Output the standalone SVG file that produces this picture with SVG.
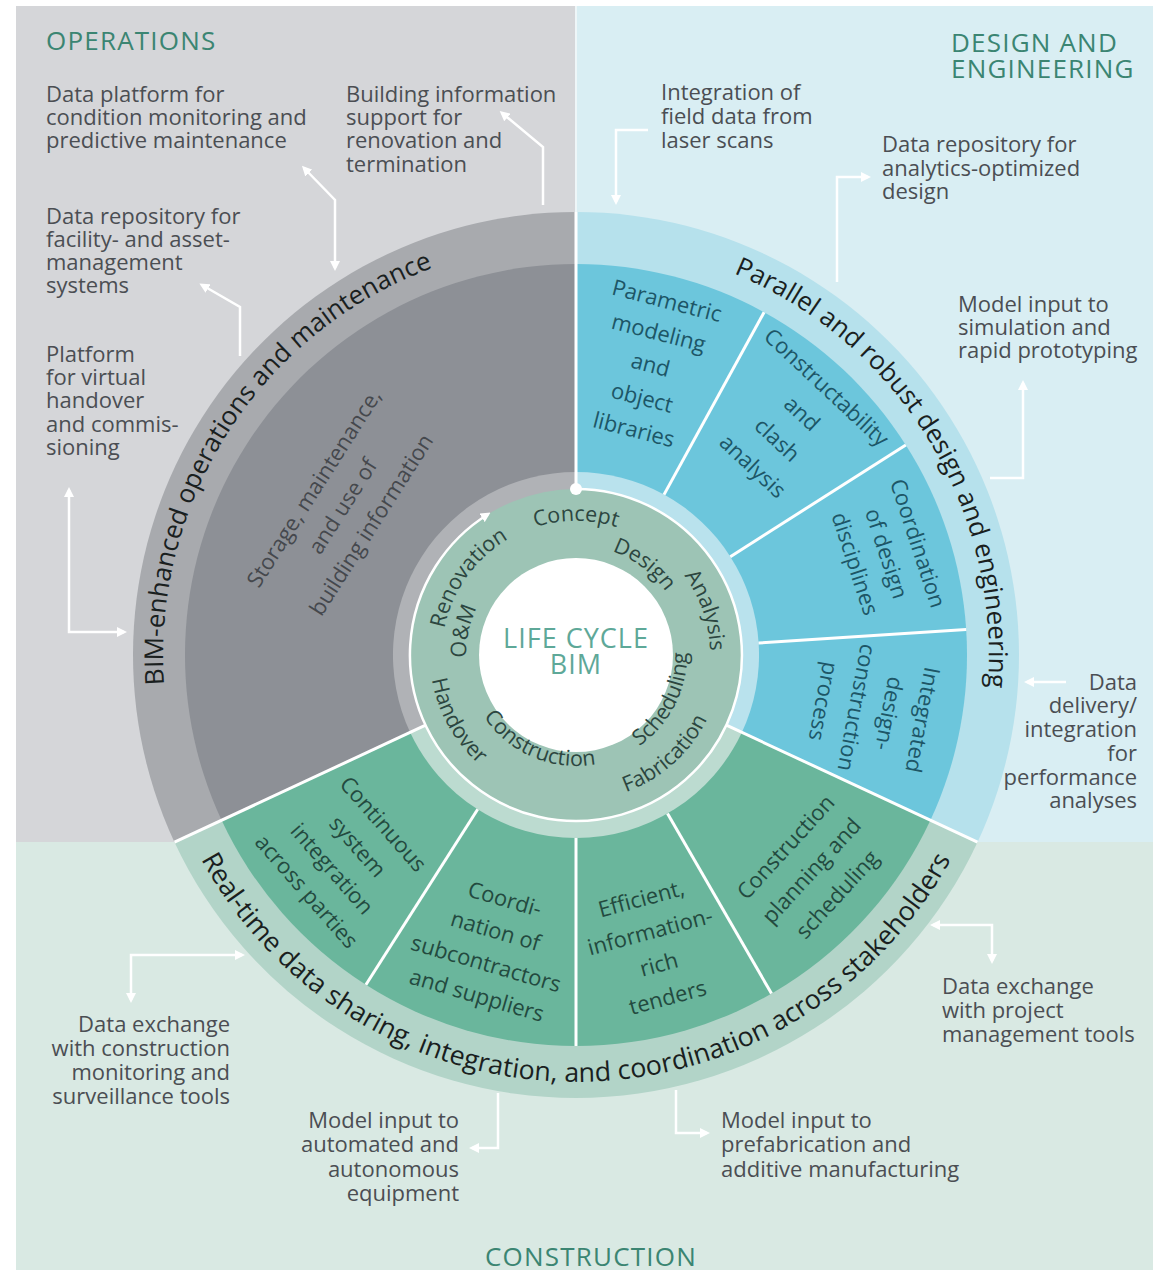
<svg xmlns="http://www.w3.org/2000/svg" width="1153" height="1270" viewBox="0 0 1153 1270">
<style>
text{font-family:"Open Sans","Noto Sans","Liberation Sans",sans-serif}
.ann{font-size:22px;fill:#4b4e53}
.r{text-anchor:end}
.hdr{font-size:26px;fill:#3b8572;letter-spacing:1.2px}
.sec{font-size:22px;text-anchor:middle}
.sg{fill:#45484d}
.sb{fill:#1d5667}
.sgr{fill:#234a3f}
.band{font-size:26px;font-weight:500;fill:#1a1f1f}
.lc{font-size:21.5px;fill:#2c4640}
.conn{fill:none;stroke:#ffffff;stroke-width:2.5}
.div{stroke:#ffffff;stroke-width:3;fill:none}
</style>
<defs>
<marker id="ah" viewBox="0 0 10 10" refX="7" refY="5" markerWidth="4" markerHeight="4" orient="auto-start-reverse" markerUnits="strokeWidth">
<path d="M0,0 L10,5 L0,10 z" fill="#ffffff"/>
</marker>
<path id="cw413" d="M169.3,583.3 A413,413 0 0 1 982.7,583.3"/>
<path id="cw134" d="M444,631.7 A134,134 0 0 1 708,631.7"/>
<path id="cw110" d="M467.7,635.9 A110,110 0 0 1 684.3,635.9"/>
<path id="ccw427" d="M155.5,729.1 A427,427 0 0 0 996.5,729.1"/>
<path id="ccw146" d="M432.2,680.3 A146,146 0 0 0 719.8,680.3"/>
<path id="ccw111" d="M466.7,674.3 A111,111 0 0 0 685.3,674.3"/>
</defs>

<rect width="1153" height="1270" fill="#ffffff"/>
<g id="backgrounds">
<rect x="16" y="6" width="560" height="836" fill="#d5d6d9"/>
<rect x="576" y="6" width="577" height="836" fill="#d9eef3"/>
<rect x="16" y="842" width="1137" height="428" fill="#d9e9e3"/>
<line x1="576" y1="6" x2="576" y2="212" stroke="#eef6f8" stroke-width="2"/>
</g>

<g id="wheel">
<path d="M576,655 L174.5,842.2 A443,443 0 0 1 576,212 Z" fill="#a8aaae"/>
<path d="M576,655 L576,212 A443,443 0 0 1 977.5,842.2 Z" fill="#b6e1ec"/>
<path d="M576,655 L977.5,842.2 A443,443 0 0 1 174.5,842.2 Z" fill="#b2d4c8"/>
<path d="M576,655 L221.6,820.2 A391,391 0 0 1 576,264 Z" fill="#8d9096"/>
<path d="M576,655 L576,264 A391,391 0 0 1 930.4,820.2 Z" fill="#6cc6dc"/>
<path d="M576,655 L930.4,820.2 A391,391 0 0 1 221.6,820.2 Z" fill="#6ab69c"/>
<path d="M576,655 L410.1,732.3 A183,183 0 0 1 576,472 Z" fill="#b0b2b6"/>
<path d="M576,655 L576,472 A183,183 0 0 1 741.9,732.3 Z" fill="#b9e2ed"/>
<path d="M576,655 L741.9,732.3 A183,183 0 0 1 410.1,732.3 Z" fill="#bcdbd0"/>
<circle cx="576" cy="655" r="166" fill="#9dc4b5"/>
<circle cx="576" cy="655" r="97" fill="#ffffff"/>
</g>

<g id="connectors">
<line class="div" x1="664" y1="494.6" x2="764.1" y2="312.2"/>
<line class="div" x1="730.3" y1="556.7" x2="905.8" y2="444.9"/>
<line class="div" x1="758.6" y1="643" x2="966.2" y2="629.4"/>
<line class="div" x1="667.5" y1="813.5" x2="771.5" y2="993.6"/>
<line class="div" x1="576" y1="838" x2="576" y2="1046"/>
<line class="div" x1="477.7" y1="809.3" x2="365.9" y2="984.8"/>
<line class="div" x1="425.6" y1="725.2" x2="174.5" y2="842.2"/>
<line class="div" x1="726.4" y1="725.2" x2="977.5" y2="842.2"/>
<line class="div" x1="576" y1="212" x2="576" y2="489"/>
<path class="conn" d="M576,489 A166,166 0 1 1 488,514.2" marker-end="url(#ah)"/>
<circle cx="576" cy="489" r="6" fill="#ffffff"/>
<path class="conn" d="M304,168 L335,200 L335,268" marker-start="url(#ah)" marker-end="url(#ah)"/>
<path class="conn" d="M502,113 L543,147 L543,205" marker-start="url(#ah)"/>
<path class="conn" d="M202,285 L240,307 L240,356" marker-start="url(#ah)"/>
<path class="conn" d="M69,490 L69,632 L124,632" marker-start="url(#ah)" marker-end="url(#ah)"/>
<path class="conn" d="M648,130 L616,130 L616,202" marker-end="url(#ah)"/>
<path class="conn" d="M837,282 L837,177 L868,177" marker-end="url(#ah)"/>
<path class="conn" d="M1023,383 L1023,478 L990,478" marker-start="url(#ah)"/>
<path class="conn" d="M1066,682 L1027,682" marker-end="url(#ah)"/>
<path class="conn" d="M131,1000 L131,955 L242,955" marker-start="url(#ah)" marker-end="url(#ah)"/>
<path class="conn" d="M498,1093 L498,1148 L472,1148" marker-end="url(#ah)"/>
<path class="conn" d="M676,1090 L676,1133 L707,1133" marker-end="url(#ah)"/>
<path class="conn" d="M992,961 L992,925 L933,925" marker-start="url(#ah)" marker-end="url(#ah)"/>
</g>

<g id="headers">
<text class="hdr" x="46" y="50">OPERATIONS</text>
<text class="hdr" x="951" y="52">DESIGN AND</text>
<text class="hdr" x="951" y="78">ENGINEERING</text>
<text class="hdr" x="591" y="1266" text-anchor="middle">CONSTRUCTION</text>
</g>

<g id="ann-condition" class="ann"><text x="46" y="102">Data platform for</text><text x="46" y="125">condition monitoring and</text><text x="46" y="148">predictive maintenance</text></g>
<g id="ann-renovation" class="ann"><text x="346" y="102">Building information</text><text x="346" y="125">support for</text><text x="346" y="148">renovation and</text><text x="346" y="172">termination</text></g>
<g id="ann-facility" class="ann"><text x="46" y="224">Data repository for</text><text x="46" y="247">facility- and asset-</text><text x="46" y="270">management</text><text x="46" y="293">systems</text></g>
<g id="ann-handover" class="ann"><text x="46" y="362">Platform</text><text x="46" y="385">for virtual</text><text x="46" y="408">handover</text><text x="46" y="432">and commis-</text><text x="46" y="455">sioning</text></g>
<g id="ann-laser" class="ann"><text x="661" y="100">Integration of</text><text x="661" y="124">field data from</text><text x="661" y="148">laser scans</text></g>
<g id="ann-analytics" class="ann"><text x="882" y="152">Data repository for</text><text x="882" y="176">analytics-optimized</text><text x="882" y="199">design</text></g>
<g id="ann-simulation" class="ann"><text x="958" y="312">Model input to</text><text x="958" y="335">simulation and</text><text x="958" y="358">rapid prototyping</text></g>
<g id="ann-performance" class="ann r"><text x="1137" y="690">Data</text><text x="1137" y="713">delivery/</text><text x="1137" y="737">integration</text><text x="1137" y="761">for</text><text x="1137" y="785">performance</text><text x="1137" y="808">analyses</text></g>
<g id="ann-monitoring" class="ann r"><text x="230" y="1032">Data exchange</text><text x="230" y="1056">with construction</text><text x="230" y="1080">monitoring and</text><text x="230" y="1104">surveillance tools</text></g>
<g id="ann-automated" class="ann r"><text x="459" y="1128">Model input to</text><text x="459" y="1152">automated and</text><text x="459" y="1177">autonomous</text><text x="459" y="1201">equipment</text></g>
<g id="ann-prefab" class="ann"><text x="721" y="1128">Model input to</text><text x="721" y="1152">prefabrication and</text><text x="721" y="1177">additive manufacturing</text></g>
<g id="ann-project" class="ann"><text x="942" y="994">Data exchange</text><text x="942" y="1018">with project</text><text x="942" y="1042">management tools</text></g>

<g id="ring-labels" class="band">
<text transform="rotate(302.8,576,655)"><textPath href="#cw413" startOffset="50%" text-anchor="middle">BIM-enhanced operations and maintenance</textPath></text>
<text transform="rotate(58.5,576,655)"><textPath href="#cw413" startOffset="50%" text-anchor="middle">Parallel and robust design and engineering</textPath></text>
<text style="font-size:26.8px"><textPath href="#ccw427" startOffset="50%" text-anchor="middle">Real-time data sharing, integration, and coordination across stakeholders</textPath></text>
</g>

<g id="sector-storage" class="sec sg" transform="translate(576,655) rotate(-57.5)"><text y="-303">Storage, maintenance,</text><text y="-269">and use of</text><text y="-235">building information</text></g>
<g id="sector-parametric" class="sec sb" transform="translate(576,655) rotate(14.4)"><text y="-358">Parametric</text><text y="-325">modeling</text><text y="-292">and</text><text y="-258">object</text><text y="-225">libraries</text></g>
<g id="sector-clash" class="sec sb" transform="translate(576,655) rotate(43.1)"><text y="-359">Constructability</text><text y="-323">and</text><text y="-287">clash</text><text y="-251">analysis</text></g>
<g id="sector-coordination" class="sec sb" transform="translate(576,655) rotate(71.9)"><text y="-352">Coordination</text><text y="-319">of design</text><text y="-286">disciplines</text></g>
<g id="sector-integrated" class="sec sb" transform="translate(576,655) rotate(100.6)"><text y="-345">Integrated</text><text y="-311">design-</text><text y="-278">construction</text><text y="-244">process</text></g>
<g id="sector-planning" class="sec sgr" transform="translate(576,655) rotate(-47.5)"><text y="292">Construction</text><text y="327">planning and</text><text y="362">scheduling</text></g>
<g id="sector-tenders" class="sec sgr" transform="translate(576,655) rotate(-15)"><text y="260">Efficient,</text><text y="294">information-</text><text y="328">rich</text><text y="362">tenders</text></g>
<g id="sector-subcontractors" class="sec sgr" transform="translate(576,655) rotate(16.25)"><text y="262">Coordi-</text><text y="295">nation of</text><text y="329">subcontractors</text><text y="362">and suppliers</text></g>
<g id="sector-continuous" class="sec sgr" transform="translate(576,655) rotate(48.75)"><text y="264">Continuous</text><text y="298">system</text><text y="332">integration</text><text y="366">across parties</text></g>

<g id="lifecycle" class="lc">
<text><textPath href="#cw134" startOffset="50%" text-anchor="middle">Concept</textPath></text>
<text transform="rotate(37,576,655)"><textPath href="#cw110" startOffset="50%" text-anchor="middle">Design</textPath></text>
<text transform="rotate(71,576,655)"><textPath href="#cw134" startOffset="50%" text-anchor="middle">Analysis</textPath></text>
<text transform="rotate(-63,576,655)"><textPath href="#ccw111" startOffset="50%" text-anchor="middle">Scheduling</textPath></text>
<text transform="rotate(-42,576,655)"><textPath href="#ccw146" startOffset="50%" text-anchor="middle">Fabrication</textPath></text>
<text transform="rotate(23,576,655)"><textPath href="#ccw111" startOffset="50%" text-anchor="middle">Construction</textPath></text>
<text transform="rotate(61,576,655)"><textPath href="#ccw146" startOffset="50%" text-anchor="middle">Handover</textPath></text>
<text transform="rotate(282,576,655)"><textPath href="#cw110" startOffset="50%" text-anchor="middle">O&amp;M</textPath></text>
<text transform="rotate(305.6,576,655)"><textPath href="#cw134" startOffset="50%" text-anchor="middle">Renovation</textPath></text>
</g>

<g id="center-label" style="font-size:27px;fill:#5ea898;text-anchor:middle;letter-spacing:1px">
<text x="576" y="648">LIFE CYCLE</text>
<text x="576" y="674">BIM</text>
</g>
</svg>
